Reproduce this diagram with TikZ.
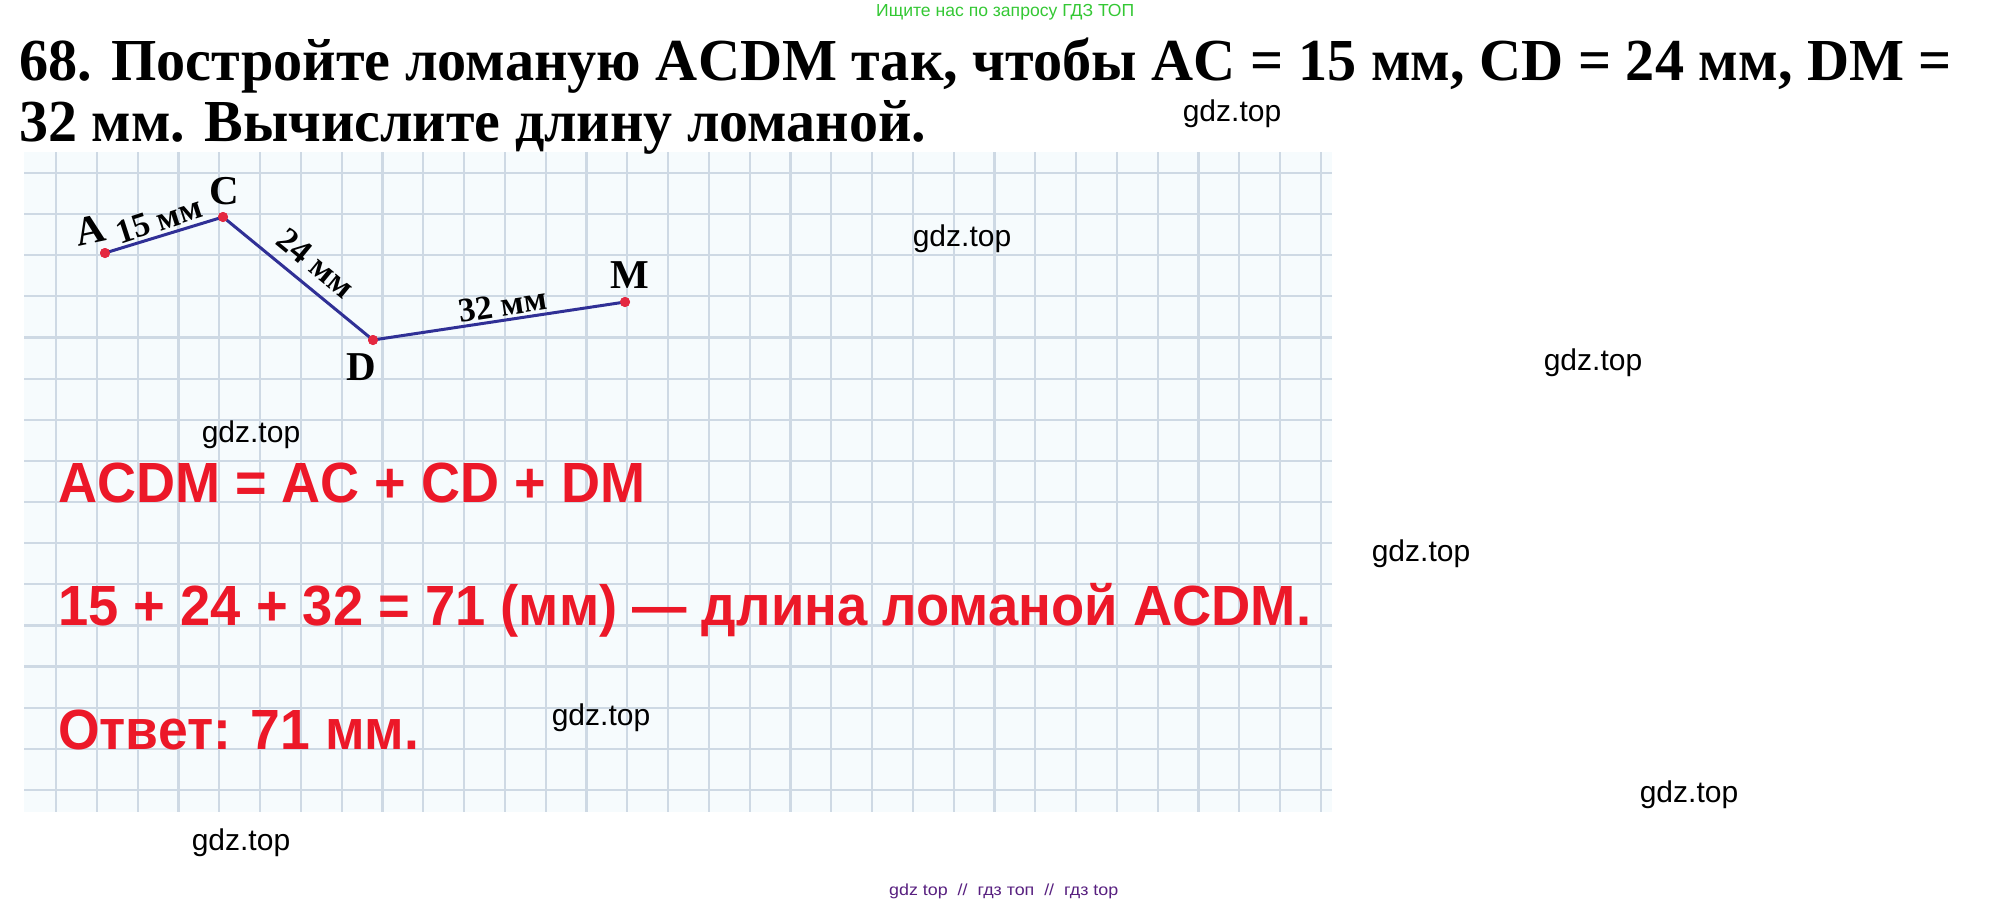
\documentclass[tikz,border=0pt]{standalone}
\usepackage{fontspec}
\usepackage{graphicx}
\setmainfont{Liberation Serif}
\newfontfamily\sansf{Liberation Sans}
\definecolor{gridc}{RGB}{206,217,228}
\definecolor{paper}{RGB}{246,251,253}
\definecolor{redtxt}{RGB}{236,24,40}
\definecolor{segc}{RGB}{48,48,150}
\definecolor{dotc}{RGB}{228,40,64}
\definecolor{greentxt}{RGB}{52,200,52}
\definecolor{purpletxt}{RGB}{88,32,128}
\newcommand\fitbox[4]{\resizebox{#1}{#2}{#3\raisebox{0pt}[\fontcharht\font`H][0pt]{#4}}}
\begin{document}
\begin{tikzpicture}[x=1pt,y=-1pt,
  gridline/.style={draw=gridc,line width=2.2pt},
  seg/.style={draw=segc,line width=3pt},
  dot/.style={circle,fill=dotc,minimum size=10pt,inner sep=0pt},
  ptlabel/.style={font=\bfseries\fontsize{41}{41}\selectfont,inner sep=0pt},
  seglabel/.style={font=\bfseries\fontsize{34}{34}\selectfont,inner sep=0pt},
  wm/.style={font=\sansf\fontsize{30}{30}\selectfont,inner sep=0pt,text=black},
  fit/.style={anchor=base west,inner sep=0pt}]
\useasboundingbox (0,0) rectangle (2011,905);
\fill[white] (0,0) rectangle (2011,905);
% grid paper
\fill[paper] (24,152) rectangle (1332,812);
\foreach \k in {0,...,31} \draw[gridline] ({56+40.8*\k},152) -- ({56+40.8*\k},812);
\foreach \j in {0,...,15} \draw[gridline] (24,{173+41.13*\j}) -- (1332,{173+41.13*\j});
% header
\node[fit,text=greentxt] (hdr) at (876,16) {\fitbox{258pt}{12pt}{\sansf\fontsize{16}{16}\selectfont}{Ищите нас по запросу ГДЗ ТОП}};
\node[fit] (t1) at (19,80) {\fitbox{1933pt}{39pt}{\bfseries\fontsize{52}{52}\selectfont}{68. Постройте ломаную ACDM так, чтобы AC = 15 мм, CD = 24 мм, DM =}};
\node[fit] (t2) at (19,141) {\fitbox{907pt}{39pt}{\bfseries\fontsize{52}{52}\selectfont}{32 мм. Вычислите длину ломаной.}};
% polyline
\node[dot] (A) at (105,253) {};
\node[dot] (C) at (223,217) {};
\node[dot] (D) at (373,340) {};
\node[dot] (M) at (625,302) {};
\draw[seg] (A.center) -- (C.center) -- (D.center) -- (M.center);
\node[dot] at (A.center) {};
\node[dot] at (C.center) {};
\node[dot] at (D.center) {};
\node[dot] at (M.center) {};
\node[ptlabel,rotate=12] (lA) at (90,230) {A};
\node[ptlabel] (lC) at (224,191) {C};
\node[ptlabel] (lD) at (361,367) {D};
\node[ptlabel] (lM) at (630,275) {M};
\node[seglabel,rotate=18] (l15) at (159,220) {15 мм};
\node[seglabel,rotate=-39.4] (l24) at (316,263) {24 мм};
\node[seglabel,rotate=8.6] (l32) at (503,305) {32 мм};
% red solution text
\node[fit,text=redtxt] (r1) at (58,502) {\fitbox{587pt}{39pt}{\sansf\bfseries\fontsize{54}{54}\selectfont}{ACDM = AC + CD + DM}};
\node[fit,text=redtxt] (r2) at (58,625) {\fitbox{1253pt}{39pt}{\sansf\bfseries\fontsize{54}{54}\selectfont}{15 + 24 + 32 = 71 (мм) — длина ломаной ACDM.}};
\node[fit,text=redtxt] (r3) at (58,749) {\fitbox{361pt}{39pt}{\sansf\bfseries\fontsize{54}{54}\selectfont}{Ответ: 71 мм.}};
% watermarks
\node[wm] (w1) at (1232,114) {gdz.top};
\node[wm] (w2) at (962,239) {gdz.top};
\node[wm] (w3) at (1593,363) {gdz.top};
\node[wm] (w4) at (251,435) {gdz.top};
\node[wm] (w5) at (1421,554) {gdz.top};
\node[wm] (w6) at (601,718) {gdz.top};
\node[wm] (w7) at (1689,795) {gdz.top};
\node[wm] (w8) at (241,843) {gdz.top};
% footer
\node[fit,text=purpletxt] (ftr) at (889,895) {\fitbox{229pt}{11pt}{\sansf\fontsize{15}{15}\selectfont}{gdz top\ \ //\ \ гдз топ\ \ //\ \ гдз top}};
\end{tikzpicture}
\end{document}
